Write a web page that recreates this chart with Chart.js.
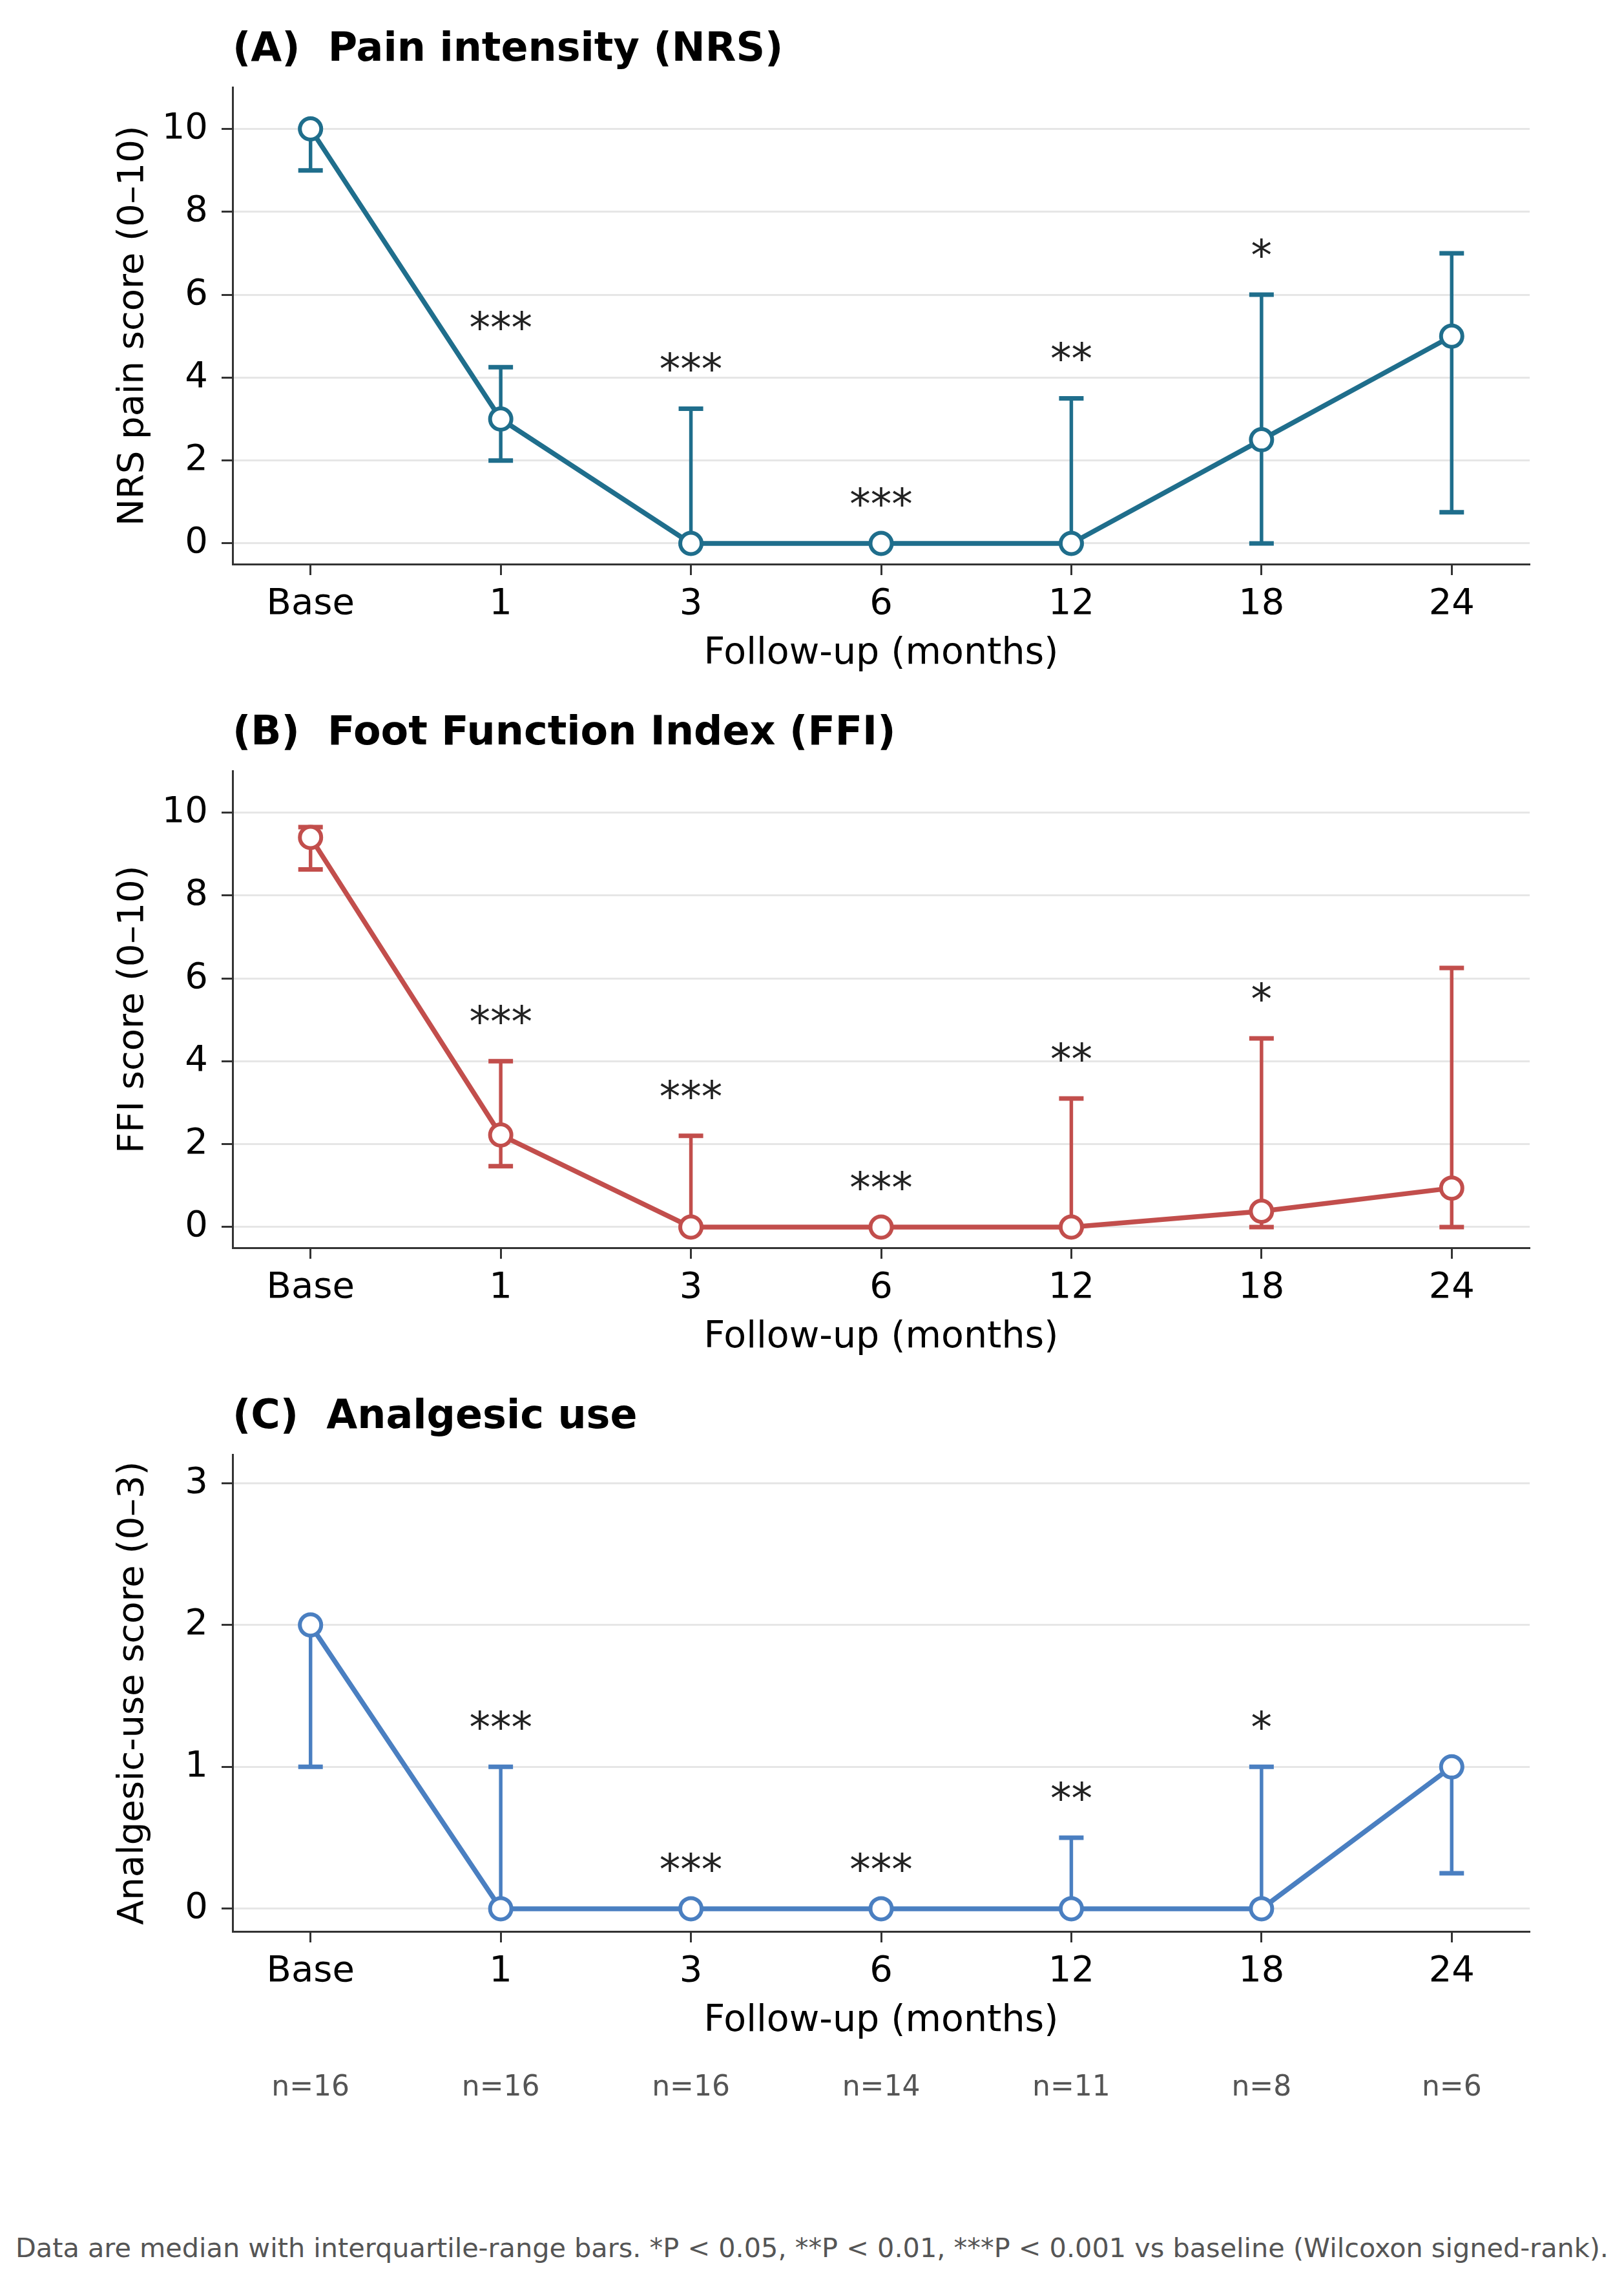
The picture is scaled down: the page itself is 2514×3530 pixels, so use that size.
<!DOCTYPE html>
<html>
<head>
<meta charset="utf-8">
<script src="https://cdn.jsdelivr.net/npm/chart.js@4/dist/chart.umd.min.js"></script>
<style>
  body { margin: 0; background: #fff; }
  #page { position: relative; width: 2514px; height: 3530px; background: #fff; }
  .panel { position: absolute; left: 0; }
  #note {
    position: absolute; left: 0; width: 2514px; top: 3455px;
    text-align: center; font-family: "DejaVu Sans"; font-size: 41.4px; color: #555;
    white-space: nowrap;
  }
</style>
</head>
<body>
<div id="page">
  <div class="panel" style="top:0px"><canvas id="chartA" width="2514" height="1058"></canvas></div>
  <div class="panel" style="top:1058px"><canvas id="chartB" width="2514" height="1058"></canvas></div>
  <div class="panel" style="top:2116px"><canvas id="chartC" width="2514" height="1250"></canvas></div>
  <div id="note">Data are median with interquartile-range bars. *P &lt; 0.05, **P &lt; 0.01, ***P &lt; 0.001 vs baseline (Wilcoxon signed-rank).</div>
</div>
<script>
// follow-up visits
const categories = ['Base', '1', '3', '6', '12', '18', '24'];
const nCounts = [16, 16, 16, 14, 11, 8, 6];
const stars = ['', '***', '***', '***', '**', '*', ''];

// (A) NRS pain: median and IQR
const nrsMedian = [10, 3, 0, 0, 0, 2.5, 5];
const nrsQ1 = [9, 2, 0, 0, 0, 0, 0.75];
const nrsQ3 = [10, 4.25, 3.25, 0, 3.5, 6, 7];

// (B) FFI
const ffiMedian = [9.4, 2.22, 0, 0, 0, 0.38, 0.94];
const ffiQ1 = [8.63, 1.47, 0, 0, 0, 0, 0];
const ffiQ3 = [9.65, 4.0, 2.2, 0, 3.1, 4.55, 6.25];

// (C) analgesic use
const anaMedian = [2, 0, 0, 0, 0, 0, 1];
const anaQ1 = [1, 0, 0, 0, 0, 0, 0.25];
const anaQ3 = [2, 1, 0, 0, 0.5, 1, 1];

const yTicks10 = [0, 2, 4, 6, 8, 10];
const yTicks3 = [0, 1, 2, 3];

Chart.defaults.font.family = 'DejaVu Sans';
Chart.defaults.color = '#000';

// IQR bars under the markers, stars and n= above/below
const annotate = {
    id: 'annotate',
    beforeDatasetsDraw(chart, args, opts) {
        const ctx = chart.ctx;
        const xs = chart.scales.x, ys = chart.scales.y;
        ctx.save();
        ctx.strokeStyle = opts.color;
        opts.q1.forEach((lo, i) => {
            const hi = opts.q3[i];
            if (hi === lo) return;
            const x = xs.getPixelForValue(i);
            const y1 = ys.getPixelForValue(lo), y2 = ys.getPixelForValue(hi);
            ctx.lineWidth = 5.5;
            ctx.beginPath();
            ctx.moveTo(x, y1);
            ctx.lineTo(x, y2);
            ctx.stroke();
            ctx.lineWidth = 7;
            ctx.beginPath();
            ctx.moveTo(x - 19, y1); ctx.lineTo(x + 19, y1);
            ctx.moveTo(x - 19, y2); ctx.lineTo(x + 19, y2);
            ctx.stroke();
        });
        ctx.restore();
    },
    afterDatasetsDraw(chart, args, opts) {
        const ctx = chart.ctx;
        const xs = chart.scales.x, ys = chart.scales.y;
        ctx.save();
        ctx.textAlign = 'center';
        ctx.textBaseline = 'alphabetic';
        ctx.fillStyle = '#222';
        ctx.font = '65px "DejaVu Sans"';
        stars.forEach((s, i) => {
            if (!s) return;
            ctx.fillText(s, xs.getPixelForValue(i), ys.getPixelForValue(opts.q3[i]) - 38);
        });
        if (opts.showN) {
            ctx.fillStyle = '#555';
            ctx.font = '44px "DejaVu Sans"';
            ctx.textBaseline = 'middle';
            nCounts.forEach((n, i) => {
                ctx.fillText('n=' + n, xs.getPixelForValue(i), chart.chartArea.bottom + 243);
            });
        }
        ctx.restore();
    }
};

function makePanel(id, title, yTitle, median, q1, q3, color, yMin, yMax, yTicks, showN) {
    new Chart(document.getElementById(id), {
        type: 'line',
        data: {
            datasets: [{
                data: median.map((v, i) => ({ x: i, y: v })),
                borderColor: color,
                borderWidth: 7.5,
                pointRadius: 16.5,
                pointHoverRadius: 16.5,
                pointBorderWidth: 6,
                pointBackgroundColor: '#fff',
                pointBorderColor: color,
                tension: 0,
                clip: false
            }]
        },
        options: {
            responsive: false,
            animation: false,
            devicePixelRatio: 1,
            layout: { padding: { left: 0, right: 146, top: 0, bottom: showN ? 192 : 0 } },
            plugins: {
                legend: { display: false },
                tooltip: { enabled: false },
                title: {
                    display: true,
                    text: title,
                    align: 'start',
                    fullSize: false,
                    color: '#000',
                    font: { size: 62, weight: 'bold' },
                    padding: { top: 41, bottom: 20 }
                },
                annotate: { q1: q1, q3: q3, color: color, showN: showN }
            },
            scales: {
                x: {
                    type: 'linear',
                    min: -0.41,
                    max: 6.41,
                    afterBuildTicks: s => { s.ticks = categories.map((c, i) => ({ value: i })); },
                    afterFit: s => { s.height = 185; },
                    ticks: {
                        callback: v => categories[v],
                        font: { size: 56 },
                        color: '#000',
                        padding: 12,
                        maxRotation: 0,
                        autoSkip: false
                    },
                    grid: { drawOnChartArea: false, tickLength: 17, tickWidth: 3, tickColor: '#333' },
                    border: { color: '#333', width: 3 },
                    title: {
                        display: true,
                        text: 'Follow-up (months)',
                        font: { size: 57 },
                        color: '#000',
                        padding: { top: 0, bottom: 12 }
                    }
                },
                y: {
                    min: yMin,
                    max: yMax,
                    afterBuildTicks: s => { s.ticks = yTicks.map(v => ({ value: v })); },
                    afterFit: s => { s.width = 360; },
                    ticks: { font: { size: 56 }, color: '#000', padding: 21 },
                    grid: { color: '#e6e6e6', lineWidth: 3, tickLength: 17, tickWidth: 3, tickColor: '#333' },
                    border: { color: '#333', width: 3 },
                    title: {
                        display: true,
                        text: yTitle,
                        font: { size: 56 },
                        color: '#000',
                        padding: { top: 173, bottom: 0 }
                    }
                }
            }
        },
        plugins: [annotate]
    });
}

makePanel('chartA', '(A)  Pain intensity (NRS)', 'NRS pain score (0–10)',
    nrsMedian, nrsQ1, nrsQ3, '#1f6e8c', -0.5, 11, yTicks10, false);
makePanel('chartB', '(B)  Foot Function Index (FFI)', 'FFI score (0–10)',
    ffiMedian, ffiQ1, ffiQ3, '#c24e4c', -0.5, 11, yTicks10, false);
makePanel('chartC', '(C)  Analgesic use', 'Analgesic-use score (0–3)',
    anaMedian, anaQ1, anaQ3, '#4a7fc1', -0.16, 3.2, yTicks3, true);
</script>
</body>
</html>
